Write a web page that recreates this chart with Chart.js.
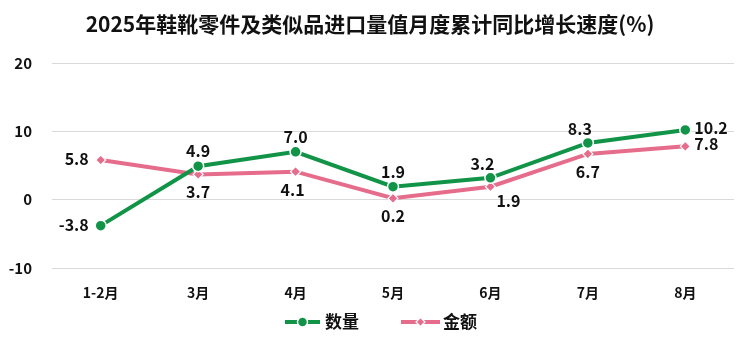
<!DOCTYPE html>
<html>
<head>
<meta charset="utf-8">
<script src="https://cdn.jsdelivr.net/npm/chart.js@4/dist/chart.umd.min.js"></script>
<style>
  html, body { margin: 0; padding: 0; background: #fff; }
  #wrap { width: 750px; height: 337px; position: relative; }
</style>
</head>
<body>
<div id="wrap"><canvas id="c"></canvas></div>
<script>
var months = ["1-2月", "3月", "4月", "5月", "6月", "7月", "8月"];
var quantity = [-3.8, 4.9, 7.0, 1.9, 3.2, 8.3, 10.2];
var amount = [5.8, 3.7, 4.1, 0.2, 1.9, 6.7, 7.8];
var yTicks = [-10, 0, 10, 20];

var GREEN = "#119447";
var PINK = "#E66C8C";
var FONT = "'Noto Sans CJK SC', 'Noto Sans', sans-serif";

// where each value label sits relative to its point
var quantityPos = ["left", "top", "top", "top", "topleft", "topleft", "right"];
var amountPos = ["left", "bottom", "bottomleft", "bottom", "bottomright", "bottom", "right"];

var valueLabels = {
  id: "valueLabels",
  afterDatasetsDraw: function(chart) {
    var ctx = chart.ctx;
    ctx.save();
    ctx.font = "bold 16px " + FONT;
    ctx.fillStyle = "#111";
    chart.data.datasets.forEach(function(ds, di) {
      var meta = chart.getDatasetMeta(di);
      var pos = di === 0 ? quantityPos : amountPos;
      meta.data.forEach(function(pt, i) {
        var txt = ds.data[i].toFixed(1);
        var x = pt.x, y = pt.y;
        var p = pos[i];
        ctx.textAlign = "center";
        ctx.textBaseline = "middle";
        if (p === "left") { ctx.textAlign = "right"; x -= 12; y -= 1; }
        else if (p === "right") { ctx.textAlign = "left"; x += 9; y -= 2; }
        else if (p === "top") { y -= 15; }
        else if (p === "topleft") { y -= 14; x -= 8; }
        else if (p === "bottom") { y += 18; }
        else if (p === "bottomleft") { y += 18; x -= 3; }
        else if (p === "bottomright") { y += 14; x += 18; }
        ctx.fillText(txt, x, y);
      });
    });
    ctx.restore();
  }
};

var headerAndKey = {
  id: "headerAndKey",
  afterDraw: function(chart) {
    var ctx = chart.ctx;
    ctx.save();
    ctx.fillStyle = "#111";
    ctx.font = "bold 21px " + FONT;
    ctx.textAlign = "center";
    ctx.textBaseline = "middle";
    ctx.fillText("2025年鞋靴零件及类似品进口量值月度累计同比增长速度(%)", 370, 24);

    // legend entries
    var y = 322;
    ctx.lineWidth = 4;
    ctx.strokeStyle = GREEN;
    ctx.beginPath(); ctx.moveTo(285, y); ctx.lineTo(320, y); ctx.stroke();
    ctx.fillStyle = GREEN;
    ctx.beginPath(); ctx.arc(302.5, y, 5, 0, Math.PI * 2); ctx.fill();
    ctx.strokeStyle = "#fff"; ctx.lineWidth = 1.5; ctx.stroke();

    ctx.lineWidth = 4;
    ctx.strokeStyle = PINK;
    ctx.beginPath(); ctx.moveTo(401, y); ctx.lineTo(440, y); ctx.stroke();
    ctx.fillStyle = PINK;
    ctx.beginPath();
    ctx.moveTo(420.5, y - 4.5); ctx.lineTo(425, y); ctx.lineTo(420.5, y + 4.5); ctx.lineTo(416, y);
    ctx.closePath(); ctx.fill();
    ctx.strokeStyle = "#fff"; ctx.lineWidth = 1.2; ctx.stroke();

    ctx.fillStyle = "#111";
    ctx.font = "bold 17px " + FONT;
    ctx.textAlign = "left";
    ctx.fillText("数量", 325, y);
    ctx.fillText("金额", 443, y);
    ctx.restore();
  }
};

new Chart(document.getElementById("c"), {
  type: "line",
  data: {
    labels: months,
    datasets: [
      {
        label: "数量",
        data: quantity,
        borderColor: GREEN,
        backgroundColor: GREEN,
        borderWidth: 4,
        pointStyle: "circle",
        pointRadius: 5.5,
        pointBorderColor: "#fff",
        pointBorderWidth: 1.5,
        tension: 0
      },
      {
        label: "金额",
        data: amount,
        borderColor: PINK,
        backgroundColor: PINK,
        borderWidth: 4,
        pointStyle: "rectRot",
        pointRadius: 5,
        pointBorderColor: "#fff",
        pointBorderWidth: 1.2,
        tension: 0
      }
    ]
  },
  options: {
    responsive: true,
    maintainAspectRatio: false,
    animation: false,
    layout: { padding: { top: 63, right: 16, bottom: 0, left: 0 } },
    plugins: {
      legend: { display: false },
      title: { display: false },
      tooltip: { enabled: false }
    },
    scales: {
      x: {
        offset: true,
        grid: { display: false },
        border: { display: false },
        ticks: { color: "#111", font: { family: FONT, size: 14, weight: "bold" }, padding: 8 },
        afterFit: function(s) { s.height = 69; }
      },
      y: {
        min: -10,
        max: 20,
        afterBuildTicks: function(s) { s.ticks = yTicks.map(function(v) { return { value: v }; }); },
        grid: { color: "#d9d9d9", lineWidth: 1, drawTicks: false },
        border: { display: false },
        ticks: { color: "#111", font: { family: FONT, size: 15, weight: "bold" }, padding: 20 },
        afterFit: function(s) { s.width = 52; }
      }
    }
  },
  plugins: [valueLabels, headerAndKey]
});
</script>
</body>
</html>
